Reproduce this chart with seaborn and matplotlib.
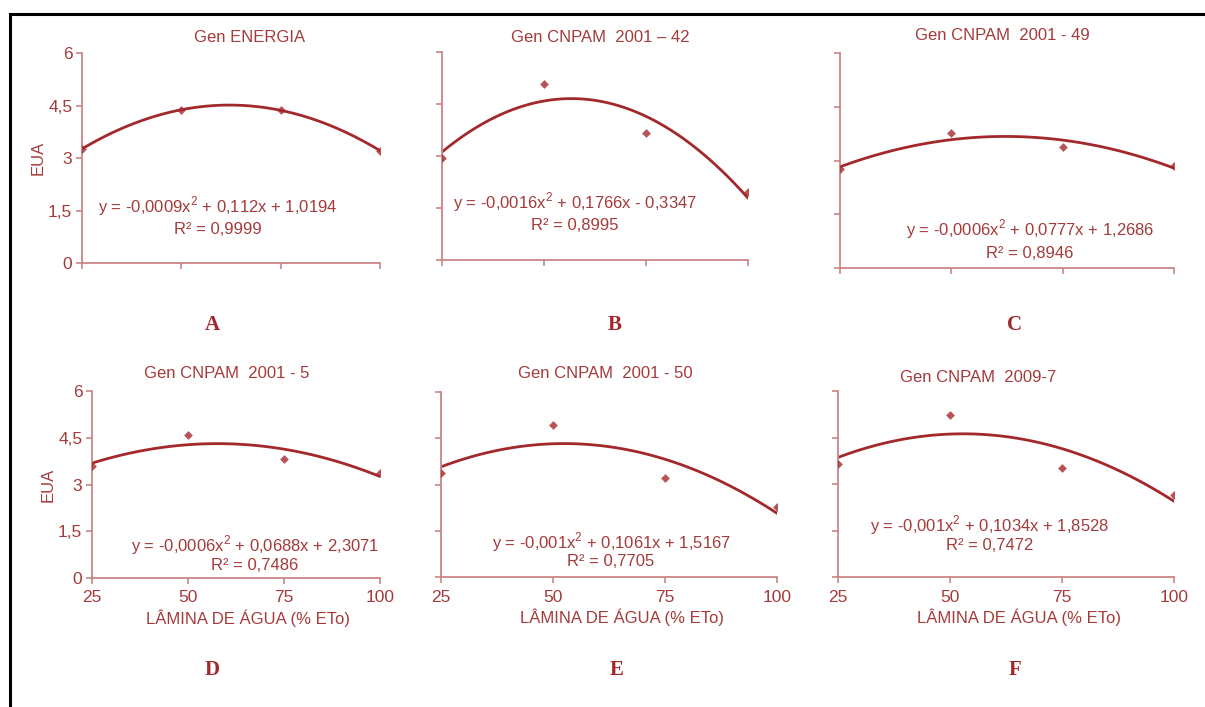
import matplotlib
matplotlib.use("Agg")
import matplotlib.pyplot as plt
import seaborn as sns
import pandas as pd
import numpy as np
from matplotlib.patches import Rectangle

# Dados (EUA x lâmina de água)
laminas = [25, 50, 75, 100]
eua_a = [3.26, 4.38, 4.36, 3.21]
eua_b = [2.95, 5.08, 3.65, 1.95]
eua_c = [2.76, 3.77, 3.38, 2.85]
eua_d = [3.58, 4.59, 3.82, 3.36]
eua_e = [3.37, 4.93, 3.21, 2.27]
eua_f = [3.65, 5.23, 3.52, 2.65]

titulos = ["Gen ENERGIA", "Gen CNPAM  2001 \u2013 42", "Gen CNPAM  2001 - 49",
           "Gen CNPAM  2001 - 5", "Gen CNPAM  2001 - 50", "Gen CNPAM  2009-7"]
letras = ["A", "B", "C", "D", "E", "F"]
equacoes = ["y = -0,0009x$^2$ + 0,112x + 1,0194",
            "y = -0,0016x$^2$ + 0,1766x - 0,3347",
            "y = -0,0006x$^2$ + 0,0777x + 1,2686",
            "y = -0,0006x$^2$ + 0,0688x + 2,3071",
            "y = -0,001x$^2$ + 0,1061x + 1,5167",
            "y = -0,001x$^2$ + 0,1034x + 1,8528"]
r2 = ["R² = 0,9999", "R² = 0,8995", "R² = 0,8946",
      "R² = 0,7486", "R² = 0,7705", "R² = 0,7472"]
yticks = [0, 1.5, 3, 4.5, 6]
ytick_labels = ["0", "1,5", "3", "4,5", "6"]

series = [eua_a, eua_b, eua_c, eua_d, eua_e, eua_f]

sns.set_theme(style="white")
plt.rcParams["font.family"] = ["Liberation Sans", "DejaVu Sans"]
plt.rcParams["mathtext.fontset"] = "custom"
plt.rcParams["mathtext.rm"] = "Liberation Sans"

COR_LINHA = "#a3282b"
COR_EIXO = "#c98585"
COR_TEXTO = "#a53a3a"

W, H = 1205, 707
fig = plt.figure(figsize=(W / 100, H / 100), dpi=100)

# moldura preta (cortada à direita e embaixo)
fig.patches.append(Rectangle((10 / W, -0.1), 1.2, 1 - 14 / H + 0.1,
                             transform=fig.transFigure, fill=False,
                             edgecolor="black", linewidth=2.2, zorder=0))

# posições dos painéis em pixels: esquerda, direita, topo, base
caixas = [(82, 380, 53, 263), (442, 748, 52, 260), (840, 1174, 53, 268),
          (92, 380, 391, 578), (441, 777, 392, 577), (838, 1174, 391, 577)]
titulo_pos = [(250, 37), (600, 37), (1002, 36), (227, 373), (605, 373), (978, 377)]
letra_pos = [(212, 325), (615, 325), (1015, 325), (212, 670), (617, 670), (1015, 670)]
eq_pos = [(218, 206, 229), (575, 202, 226), (1030, 229, 253),
          (255, 545, 565), (611, 542, 562), (990, 525, 545)]

for i, dados in enumerate(series):
    l, r, t, b = caixas[i]
    ax = fig.add_axes([l / W, 1 - b / H, (r - l) / W, (b - t) / H])
    df = pd.DataFrame({"lamina": laminas, "eua": dados})
    sns.regplot(data=df, x="lamina", y="eua", order=2, ci=None, ax=ax,
                marker="D", color=COR_LINHA,
                scatter_kws={"s": 20, "linewidths": 0, "zorder": 3},
                line_kws={"linewidth": 2.0})
    ax.set_xlim(25, 100)
    ax.set_ylim(0, 6)
    ax.set_xticks(laminas)
    ax.set_yticks(yticks)
    for s in ["top", "right"]:
        ax.spines[s].set_visible(False)
    for s in ["left", "bottom"]:
        ax.spines[s].set_color(COR_EIXO)
        ax.spines[s].set_linewidth(1.3)
    ax.tick_params(axis="both", direction="out", length=4, width=1.2,
                   bottom=True, left=True,
                   color=COR_EIXO, labelcolor=COR_TEXTO, labelsize=12.5, pad=3)
    ax.set_facecolor("none")
    for sp in ax.spines.values():
        sp.set_clip_on(False)

    if i in (0, 3):
        ax.set_yticklabels(ytick_labels)
        ax.set_ylabel("EUA", color=COR_TEXTO, fontsize=12, labelpad=2)
    else:
        ax.set_yticklabels([])
        ax.set_ylabel("")
    if i >= 3:
        ax.set_xticklabels([str(v) for v in laminas])
        ax.set_xlabel("LÂMINA DE ÁGUA (% ETo)", color=COR_TEXTO,
                      fontsize=12, labelpad=1)
        ax.xaxis.set_label_coords(0.54, -0.17)
        ax.tick_params(axis="x", pad=5)
    else:
        ax.set_xticklabels([])
        ax.set_xlabel("")

    tx, ty = titulo_pos[i]
    fig.text(tx / W, 1 - ty / H, titulos[i], ha="center", va="center",
             color=COR_TEXTO, fontsize=12)
    lx, ly = letra_pos[i]
    fig.text(lx / W, 1 - ly / H, letras[i], ha="center", va="center",
             color=COR_LINHA, fontsize=15, fontweight="bold",
             family="Liberation Serif")
    ex, ey1, ey2 = eq_pos[i]
    fig.text(ex / W, 1 - ey1 / H, equacoes[i], ha="center", va="center",
             color=COR_TEXTO, fontsize=12)
    fig.text(ex / W, 1 - ey2 / H, r2[i], ha="center", va="center",
             color=COR_TEXTO, fontsize=12)

fig.savefig("out.png", dpi=100, facecolor="white")
